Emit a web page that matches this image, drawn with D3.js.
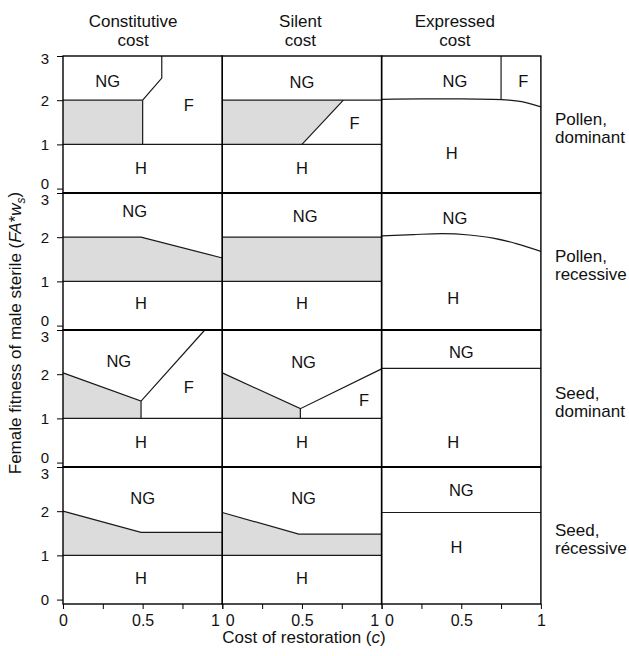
<!DOCTYPE html>
<html>
<head>
<meta charset="utf-8">
<title>Restoration cost panels</title>
<script src="https://d3js.org/d3.v7.min.js"></script>
<style>
  body { margin: 0; background: #fff; }
  svg text { font-family: "Liberation Sans", Arial, sans-serif; fill: #111; }
</style>
</head>
<body>
<script>

// column and row titles
var colTitles = [["Constitutive", "cost"], ["Silent", "cost"], ["Expressed", "cost"]];
var rowTitles = [["Pollen,", "dominant"], ["Pollen,", "recessive"], ["Seed,", "dominant"], ["Seed,", "récessive"]];

// ticks
var costTicks = [0, 0.25, 0.5, 0.75, 1];
var costLabelled = [0, 0.5, 1];
var fitTicks = [0, 1, 2, 3];

// shaded regions per panel (row by row, 3 panels per row), points are [c, fitness]
var grayAreas = [
  [[[0,1],[0.5,1],[0.5,2],[0,2]]],
  [[[0,1],[0.5,1],[0.76,2],[0,2]]],
  [],
  [[[0,1],[1,1],[1,1.53],[0.49,2],[0,2]]],
  [[[0,1],[1,1],[1,2],[0,2]]],
  [],
  [[[0,1],[0.49,1],[0.49,1.39],[0,2.03]]],
  [[[0,1],[0.49,1],[0.49,1.22],[0,2.03]]],
  [],
  [[[0,1],[1,1],[1,1.52],[0.49,1.52],[0,2.0]]],
  [[[0,1],[1,1],[1,1.48],[0.48,1.48],[0,1.97]]],
  []
];

// straight region boundaries per panel
var boundaries = [
  [[[0,2],[0.5,2],[0.62,2.5],[0.62,3]], [[0.5,1],[0.5,2]], [[0,1],[1,1]]],
  [[[0,2],[1,2]], [[0.5,1],[0.76,2]], [[0,1],[1,1]]],
  [[[0.75,2.02],[0.75,3]]],
  [[[0,2],[0.49,2],[1,1.53]], [[0,1],[1,1]]],
  [[[0,2],[1,2]], [[0,1],[1,1]]],
  [],
  [[[0,2.03],[0.49,1.39],[0.89,3]], [[0.49,1],[0.49,1.39]], [[0,1],[1,1]]],
  [[[0,2.03],[0.49,1.22],[1,2.12]], [[0.49,1],[0.49,1.22]], [[0,1],[1,1]]],
  [[[0,2.13],[1,2.13]]],
  [[[0,2.0],[0.49,1.52],[1,1.52]], [[0,1],[1,1]]],
  [[[0,1.97],[0.48,1.48],[1,1.48]], [[0,1],[1,1]]],
  [[[0,1.97],[1,1.97]]]
];

// curved boundaries (expressed cost)
var curves = [
  [], [],
  [[[0,2.02],[0.25,2.03],[0.5,2.03],[0.7,2.02],[0.8,2.0],[0.9,1.95],[1,1.85]]],
  [], [],
  [[[0,2.03],[0.2,2.06],[0.38,2.08],[0.55,2.05],[0.7,1.98],[0.85,1.85],[1,1.68]]],
  [], [], [], [], [], []
];

// region labels [text, c, fitness]
var regionLabels = [
  [["NG",0.28,2.44], ["F",0.79,1.89], ["H",0.49,0.47]],
  [["NG",0.5,2.42], ["F",0.83,1.48], ["H",0.5,0.47]],
  [["NG",0.46,2.44], ["F",0.89,2.44], ["H",0.44,0.81]],
  [["NG",0.45,2.6], ["H",0.49,0.51]],
  [["NG",0.52,2.48], ["H",0.5,0.5]],
  [["NG",0.46,2.43], ["H",0.45,0.62]],
  [["NG",0.35,2.3], ["F",0.79,1.72], ["H",0.49,0.47]],
  [["NG",0.51,2.27], ["F",0.89,1.41], ["H",0.5,0.47]],
  [["NG",0.5,2.49], ["H",0.45,0.47]],
  [["NG",0.5,2.3], ["H",0.49,0.48]],
  [["NG",0.51,2.3], ["H",0.5,0.48]],
  [["NG",0.5,2.48], ["H",0.47,1.18]]
];

// layout
var W = 629, H = 656;
var left = 63, colW = 159.3;
var top0 = 56, rowH = 137;

var svg = d3.select("body").append("svg")
    .attr("width", W)
    .attr("height", H);

var line = d3.line();

for (var r = 0; r < 4; r++) {
  var y = d3.scaleLinear().domain([-0.1, 3]).range([top0 + (r + 1) * rowH, top0 + r * rowH]);

  for (var c = 0; c < 3; c++) {
    var k = r * 3 + c;
    var x = d3.scaleLinear().domain([0, 1]).range([left + c * colW, left + (c + 1) * colW]);
    var g = svg.append("g");

    line.x(function(d) { return x(d[0]); }).y(function(d) { return y(d[1]); }).curve(d3.curveLinear);

    g.selectAll(".gray")
      .data(grayAreas[k])
      .enter().append("path")
      .attr("d", function(d) { return line(d) + "Z"; })
      .attr("fill", "#dcdcdc")
      .attr("stroke", "none");

    g.selectAll(".bound")
      .data(boundaries[k])
      .enter().append("path")
      .attr("d", line)
      .attr("fill", "none")
      .attr("stroke", "#1a1a1a")
      .attr("stroke-width", 1.2);

    var curveLine = d3.line()
      .x(function(d) { return x(d[0]); })
      .y(function(d) { return y(d[1]); })
      .curve(d3.curveMonotoneX);

    g.selectAll(".curve")
      .data(curves[k])
      .enter().append("path")
      .attr("d", curveLine)
      .attr("fill", "none")
      .attr("stroke", "#1a1a1a")
      .attr("stroke-width", 1.2);

    g.selectAll(".lab")
      .data(regionLabels[k])
      .enter().append("text")
      .attr("x", function(d) { return x(d[1]); })
      .attr("y", function(d) { return y(d[2]); })
      .attr("dy", "0.36em")
      .attr("text-anchor", "middle")
      .style("font-size", "16.5px")
      .text(function(d) { return d[0]; });

    // frame
    g.append("rect")
      .attr("x", x(0))
      .attr("y", top0 + r * rowH)
      .attr("width", colW)
      .attr("height", rowH)
      .attr("fill", "none")
      .attr("stroke", "#000")
      .attr("stroke-width", 1.4);

    // bottom axis on last row
    if (r == 3) {
      var ax = svg.append("g")
        .attr("transform", "translate(0," + (top0 + 4 * rowH) + ")")
        .call(d3.axisBottom(x).tickValues(costTicks).tickSize(5).tickPadding(6)
          .tickFormat(function(d) { return costLabelled.indexOf(d) >= 0 ? d3.format("")(d) : ""; }));
      ax.select(".domain").remove();
      ax.selectAll("text").style("font-size", "16px").style("font-family", "Liberation Sans, Arial, sans-serif");
      ax.selectAll("line").attr("stroke", "#000");
      if (c < 2) ax.selectAll("text").filter(function(d) { return d == 1; }).attr("text-anchor", "end").attr("dx", -3);
      if (c > 0) ax.selectAll("text").filter(function(d) { return d == 0; }).attr("text-anchor", "start").attr("dx", 3);
    }
  }

  // y axis on the left
  var ay = svg.append("g")
    .attr("transform", "translate(" + left + ",0)")
    .call(d3.axisLeft(y).tickValues(fitTicks).tickSize(6).tickPadding(8).tickFormat(d3.format("d")));
  ay.select(".domain").remove();
  ay.selectAll("text")
    .style("font-size", "15px")
    .style("font-family", "Liberation Sans, Arial, sans-serif")
    .attr("transform", function(d) {
      // keep stacked 0 / 3 labels apart where rows meet
      if (d == 0 && r < 3) return "translate(0,-5)";
      if (d == 3) return "translate(0," + (r ? 7 : 3) + ")";
      return null;
    });
  ay.selectAll("line").attr("stroke", "#000");

  // row title
  var cy = top0 + r * rowH + rowH / 2;
  svg.append("text")
    .attr("x", 555)
    .attr("y", cy)
    .style("font-size", "17px")
    .selectAll("tspan")
    .data(rowTitles[r])
    .enter().append("tspan")
    .attr("x", 555)
    .attr("dy", function(d, i) { return i ? "1.1em" : 0; })
    .text(function(d) { return d; });
}

// heavier separators between rows
for (var r2 = 1; r2 < 4; r2++) {
  svg.append("line")
    .attr("x1", left).attr("x2", left + 3 * colW)
    .attr("y1", top0 + r2 * rowH).attr("y2", top0 + r2 * rowH)
    .attr("stroke", "#000")
    .attr("stroke-width", 2.2);
}

// column titles
var headCenters = [0.44, 0.49, 0.46];
colTitles.forEach(function(t, i) {
  svg.append("text")
    .attr("text-anchor", "middle")
    .style("font-size", "17px")
    .selectAll("tspan")
    .data(t)
    .enter().append("tspan")
    .attr("x", left + (i + headCenters[i]) * colW)
    .attr("y", function(d, j) { return 27 + j * 19; })
    .text(function(d) { return d; });
});

// x axis title
var xt = svg.append("text")
  .attr("x", left + 1.5 * colW + 2)
  .attr("y", 643)
  .attr("text-anchor", "middle")
  .style("font-size", "17px");
xt.append("tspan").text("Cost of restoration (");
xt.append("tspan").style("font-style", "italic").text("c");
xt.append("tspan").text(")");

// y axis title
var yt = svg.append("text")
  .attr("transform", "translate(21," + (top0 + 2 * rowH + 3) + ") rotate(-90)")
  .attr("text-anchor", "middle")
  .style("font-size", "17px");
yt.append("tspan").text("Female fitness of male sterile (");
yt.append("tspan").style("font-style", "italic").text("FA");
yt.append("tspan").text("*");
yt.append("tspan").style("font-style", "italic").text("w");
yt.append("tspan").style("font-style", "italic").style("font-size", "12px").attr("dy", "0.3em").text("s");
yt.append("tspan").attr("dy", "-0.3em").text(")");

</script>
</body>
</html>
